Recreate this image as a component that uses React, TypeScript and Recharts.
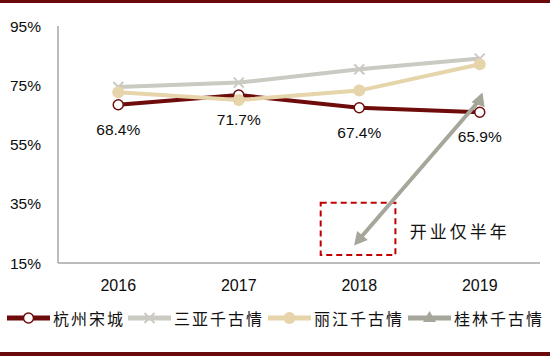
import {
  LineChart,
  Line,
  XAxis,
  YAxis,
  ReferenceArea,
  ReferenceDot,
  LabelList,
} from 'recharts';

const categories = ['2016', '2017', '2018', '2019'];
const hangzhou = [68.4, 71.7, 67.4, 65.9];
const sanya = [74.4, 75.9, 80.4, 84.0];
const lijiang = [72.6, 70.0, 73.2, 82.1];
const guilin: (number | null)[] = [null, null, 23.0, 70.0];
const yTicks = [15, 35, 55, 75, 95];

const seriesNames = ['杭州宋城', '三亚千古情', '丽江千古情', '桂林千古情'];
const colors = ['#6E0B0B', '#CACAC2', '#E6D4AA', '#A6A69B'];

// annotation box (data units)
const noteBox = { x1: 2.18, x2: 2.8, y1: 17.7, y2: 35.3 };
const noteText = '开业仅半年';

const data = categories.map((year, i) => ({
  x: i + 0.5,
  year,
  hz: hangzhou[i],
  sy: sanya[i],
  lj: lijiang[i],
  gl: guilin[i],
}));

const yTickFont = { fontFamily: 'Liberation Sans', fontSize: 15.5, fill: '#0d0d0d' };
const xTickFont = { fontFamily: 'Liberation Sans', fontSize: 16, fill: '#0d0d0d' };
const cjkFont = 'Noto Sans CJK SC';

const CrossDot = (props: any) => {
  const { cx, cy } = props;
  if (cx == null || cy == null) return null;
  const s = 5;
  return (
    <g stroke={colors[1]} strokeWidth={2}>
      <line x1={cx - s} y1={cy - s} x2={cx + s} y2={cy + s} />
      <line x1={cx - s} y1={cy + s} x2={cx + s} y2={cy - s} />
    </g>
  );
};

const TriDot = (props: any) => {
  const { cx, cy, index } = props;
  if (cx == null || cy == null) return null;
  const rot = index === 2 ? 220 : 20;
  return (
    <path
      d="M0,-8 L7,5 L-7,5 Z"
      fill={colors[3]}
      transform={`translate(${cx},${cy}) rotate(${rot})`}
    />
  );
};

function LegendIcon({ i }: { i: number }) {
  const c = colors[i];
  return (
    <svg width={43} height={16} style={{ display: 'block' }}>
      <line x1={0} y1={8} x2={43} y2={8} stroke={c} strokeWidth={5} />
      {i === 0 && <circle cx={21.5} cy={8} r={5} fill="#fff" stroke={c} strokeWidth={1.5} />}
      {i === 1 && (
        <g stroke={c} strokeWidth={2}>
          <line x1={16.5} y1={3} x2={26.5} y2={13} />
          <line x1={16.5} y1={13} x2={26.5} y2={3} />
        </g>
      )}
      {i === 2 && <circle cx={21.5} cy={8} r={6} fill={c} />}
      {i === 3 && <path d="M21.5,1 L28,12 L15,12 Z" fill={c} />}
    </svg>
  );
}

const legendLeft = [7, 128, 268, 408];

export default function App() {
  return (
    <div style={{ position: 'absolute', left: 0, top: 0, width: 550, height: 356, background: '#fff' }}>
      <div style={{ position: 'absolute', left: 0, top: 0, width: 550, height: 3, background: '#6B0A0A' }} />
      <LineChart
        width={550}
        height={356}
        data={data}
        margin={{ top: 26, right: 10, bottom: 63, left: 0 }}
      >
        <XAxis
          type="number"
          dataKey="x"
          domain={[0, 4]}
          ticks={[0.5, 1.5, 2.5, 3.5]}
          tickFormatter={(v: number) => categories[Math.floor(v)]}
          tickLine={false}
          tickMargin={11}
          axisLine={{ stroke: '#A6A6A6', strokeWidth: 1.5 }}
          tick={xTickFont}
          height={30}
        />
        <XAxis
          xAxisId="marks"
          type="number"
          dataKey="x"
          domain={[0, 4]}
          ticks={[0, 1, 2, 3, 4]}
          tick={false}
          axisLine={false}
          mirror
          tickSize={6}
          tickLine={{ stroke: '#A6A6A6', strokeWidth: 1.5 }}
        />
        <YAxis
          domain={[15, 95]}
          ticks={yTicks}
          tickFormatter={(v: number) => `${v}%`}
          tickLine={false}
          tickMargin={11}
          axisLine={{ stroke: '#A6A6A6', strokeWidth: 1.5 }}
          tick={yTickFont}
          width={58}
        />
        <YAxis
          yAxisId="marks"
          domain={[15, 95]}
          ticks={yTicks}
          tick={false}
          axisLine={false}
          mirror
          tickSize={5}
          tickLine={{ stroke: '#A6A6A6', strokeWidth: 1.5 }}
        />
        <Line
          dataKey="hz"
          stroke={colors[0]}
          strokeWidth={4}
          dot={{ r: 5, fill: '#fff', stroke: colors[0], strokeWidth: 1.5 }}
          isAnimationActive={false}
        >
          <LabelList
            dataKey="hz"
            position="bottom"
            offset={19}
            formatter={(v: any) => `${Number(v).toFixed(1)}%`}
            style={{ fontFamily: 'Liberation Sans', fontSize: 15.5, fill: '#0d0d0d' }}
          />
        </Line>
        <Line dataKey="sy" stroke={colors[1]} strokeWidth={4} dot={<CrossDot />} isAnimationActive={false} />
        <Line
          dataKey="lj"
          stroke={colors[2]}
          strokeWidth={4}
          dot={{ r: 6, fill: colors[2], stroke: colors[2], strokeWidth: 0 }}
          isAnimationActive={false}
        />
        <Line dataKey="gl" stroke={colors[3]} strokeWidth={4} dot={<TriDot />} isAnimationActive={false} />
        <ReferenceArea
          x1={noteBox.x1}
          x2={noteBox.x2}
          y1={noteBox.y1}
          y2={noteBox.y2}
          fill="none"
          fillOpacity={0}
          stroke="#C00000"
          strokeWidth={2}
          strokeDasharray="6 4"
        />
        <ReferenceDot
          x={2.92}
          y={25.5}
          r={0}
          fill="none"
          stroke="none"
          label={{
            value: noteText,
            position: 'right',
            offset: 0,
            style: { fontFamily: cjkFont, fontSize: 17, fill: '#111', letterSpacing: 3 },
          }}
        />
      </LineChart>
      {seriesNames.map((name, i) => (
        <div
          key={name}
          style={{
            position: 'absolute',
            left: legendLeft[i],
            top: 308,
            display: 'flex',
            alignItems: 'center',
            height: 20,
          }}
        >
          <LegendIcon i={i} />
          <span
            style={{
              marginLeft: 3,
              fontFamily: cjkFont,
              fontSize: 16,
              letterSpacing: 2,
              color: '#111',
              whiteSpace: 'nowrap',
            }}
          >
            {name}
          </span>
        </div>
      ))}
      <div style={{ position: 'absolute', left: 0, top: 352, width: 550, height: 4, background: '#6B0A0A' }} />
    </div>
  );
}
